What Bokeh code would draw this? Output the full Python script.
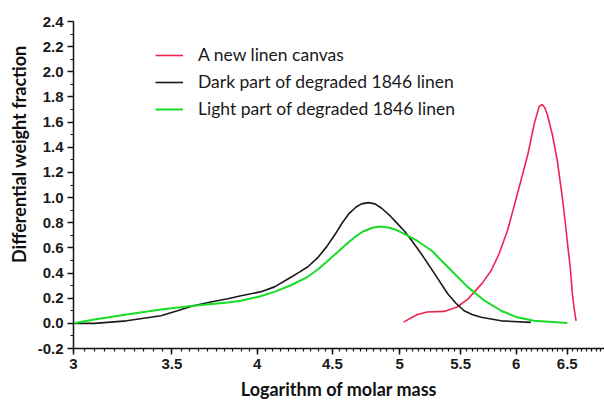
from bokeh.plotting import figure
from bokeh.models import (Range1d, FixedTicker, CustomJSTickFormatter,
                          Legend, LegendItem, Title)
from bokeh.embed import file_html
from bokeh.resources import INLINE

# Axis ticks and their labels
x_ticks = [3.0, 3.5, 4.0, 4.5, 5.0, 5.5, 6.0, 6.5]
x_tick_labels = ["3", "3.5", "4", "4.5", "5", "5.5", "6", "6.5"]
x_minor = [round(3.0 + 0.05 * i, 2) for i in range(0, 79)]
y_ticks = [-0.2, 0.0, 0.2, 0.4, 0.6, 0.8, 1.0, 1.2, 1.4, 1.6, 1.8, 2.0, 2.2, 2.4]
y_tick_labels = ["-0.2", "0.0", "0.2", "0.4", "0.6", "0.8", "1.0", "1.2",
                 "1.4", "1.6", "1.8", "2.0", "2.2", "2.4"]
y_minor = [round(-0.2 + 0.1 * i, 2) for i in range(0, 27)]

# Molar mass distributions (log M vs differential weight fraction)
new_x = [5.03, 5.14, 5.22, 5.36, 5.47, 5.56, 5.62, 5.69, 5.77, 5.84, 5.92,
         5.98, 6.04, 6.11, 6.17, 6.22, 6.25, 6.275, 6.30, 6.35, 6.40, 6.45,
         6.48, 6.51, 6.53, 6.55, 6.57, 6.59]
new_y = [0.01, 0.07, 0.09, 0.095, 0.13, 0.19, 0.25, 0.32, 0.42, 0.55, 0.74,
         0.93, 1.12, 1.34, 1.58, 1.725, 1.74, 1.715, 1.66, 1.50, 1.29, 1.00,
         0.80, 0.58, 0.45, 0.25, 0.12, 0.02]

dark_x = [3.00, 3.10, 3.26, 3.44, 3.53, 3.62, 3.72, 3.82, 3.90, 4.02, 4.11,
          4.20, 4.27, 4.33, 4.40, 4.46, 4.52, 4.57, 4.62, 4.67, 4.71, 4.76,
          4.81, 4.86, 4.93, 4.98, 5.04, 5.09, 5.17, 5.28, 5.39, 5.46, 5.53,
          5.60, 5.68, 5.86, 6.14]
dark_y = [0.00, 0.00, 0.02, 0.06, 0.10, 0.14, 0.17, 0.195, 0.22, 0.25, 0.29,
          0.355, 0.405, 0.45, 0.525, 0.61, 0.71, 0.80, 0.875, 0.925, 0.95, 0.96,
          0.95, 0.915, 0.85, 0.795, 0.73, 0.665, 0.555, 0.395, 0.235, 0.16, 0.10,
          0.07, 0.048, 0.02, 0.008]

light_x = [3.00, 3.10, 3.26, 3.44, 3.62, 3.82, 3.90, 4.02, 4.11, 4.22, 4.33,
           4.40, 4.46, 4.53, 4.60, 4.66, 4.72, 4.79, 4.85, 4.92, 4.98, 5.06,
           5.14, 5.26, 5.42, 5.56, 5.71, 5.86, 6.01, 6.17, 6.50]
light_y = [0.00, 0.03, 0.07, 0.11, 0.14, 0.165, 0.18, 0.215, 0.25, 0.305, 0.37,
           0.43, 0.49, 0.56, 0.63, 0.685, 0.73, 0.76, 0.77, 0.76, 0.74, 0.70,
           0.655, 0.575, 0.42, 0.29, 0.18, 0.10, 0.048, 0.02, 0.003]

p = figure(width=604, height=402, x_axis_type="log",
           x_range=Range1d(3.0, 6.89), y_range=Range1d(-0.2, 2.4),
           output_backend="svg", toolbar_location=None,
           min_border_left=73, min_border_right=0,
           min_border_top=21, min_border_bottom=54)

p.outline_line_color = None
p.xgrid.visible = False
p.ygrid.visible = False
p.background_fill_color = "white"
p.border_fill_color = "white"

r_new = p.line(new_x, new_y, line_color="#ec2452", line_width=1.6)
r_dark = p.line(dark_x, dark_y, line_color="#1a1a1a", line_width=1.6)
r_light = p.line(light_x, light_y, line_color="#18dc28", line_width=2.0)

fmt_code = """
const i = vals.findIndex(v => Math.abs(v - tick) < 1e-6);
return i >= 0 ? labs[i] : '';
"""

xa = p.xaxis[0]
xa.ticker = FixedTicker(ticks=x_ticks, minor_ticks=x_minor)
xa.formatter = CustomJSTickFormatter(args=dict(vals=x_ticks, labs=x_tick_labels),
                                     code=fmt_code)
ya = p.yaxis[0]
ya.ticker = FixedTicker(ticks=y_ticks, minor_ticks=y_minor)
ya.formatter = CustomJSTickFormatter(args=dict(vals=y_ticks, labs=y_tick_labels),
                                     code=fmt_code)

for ax in (xa, ya):
    ax.axis_line_color = "#111111"
    ax.axis_line_width = 1.5
    ax.major_tick_line_color = "#111111"
    ax.major_tick_line_width = 1.5
    ax.minor_tick_line_color = "#111111"
    ax.minor_tick_line_width = 1.2
    ax.major_tick_in = 0
    ax.major_tick_out = 6
    ax.minor_tick_in = 0
    ax.minor_tick_out = 3
    ax.major_label_text_font = "Liberation Sans"
    ax.major_label_text_font_style = "bold"
    ax.major_label_text_font_size = "15px"
    ax.major_label_text_color = "#1a1a1a"
    ax.major_label_standoff = 4

xa.axis_label = "Logarithm of molar mass"
xa.axis_label_standoff = 6
xa.axis_label_text_font = "Lato"
xa.axis_label_text_font_style = "bold"
xa.axis_label_text_font_size = "18px"
xa.axis_label_text_color = "#111111"

# y-axis title, anchored near the top of the axis
p.add_layout(Title(text="Differential weight fraction", align="right",
                   offset=24, standoff=10,
                   text_font="Lato", text_font_style="bold",
                   text_font_size="18px", text_color="#111111"), "left")

legend = Legend(items=[
    LegendItem(label="A new linen canvas", renderers=[r_new]),
    LegendItem(label="Dark part of degraded 1846 linen", renderers=[r_dark]),
    LegendItem(label="Light part of degraded 1846 linen", renderers=[r_light]),
], location=(82, 229), padding=0, margin=0, spacing=6,
    glyph_width=28, glyph_height=20, label_height=20, label_standoff=15,
    border_line_alpha=0, background_fill_alpha=0,
    label_text_font="Lato", label_text_font_size="17.5px",
    label_text_color="#1a1a1a")
p.add_layout(legend)

with open("out.html", "w") as f:
    f.write(file_html(p, INLINE))
